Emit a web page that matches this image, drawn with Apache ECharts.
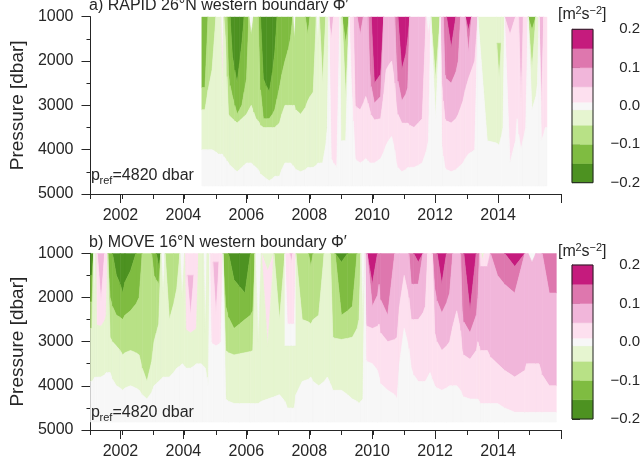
<!DOCTYPE html>
<html><head><meta charset="utf-8">
<script src="https://cdn.jsdelivr.net/npm/echarts@6/dist/echarts.min.js"></script>
<style>html,body{margin:0;padding:0;background:#fff}#c{width:644px;height:466px}</style>
</head><body><div id="c"></div>
<script>
// ---- contour levels (m^2 s^-2) and colours ----
const levels = [-0.2, -0.15, -0.1, -0.05, -0.01, 0.01, 0.05, 0.1, 0.15, 0.2];
const levelColors = ['#4d9221', '#7fbc41', '#b8e186', '#e6f5d0', '#f7f7f7', '#fde0ef', '#f1b6da', '#de77ae', '#c51b7d'];
const cbTicks = [-0.2, -0.1, 0, 0.1, 0.2];
const yearTicks = [2002, 2004, 2006, 2008, 2010, 2012, 2014, 2016];
const yearLabels = [2002, 2004, 2006, 2008, 2010, 2012, 2014];
const pressureTicks = [1000, 2000, 3000, 4000, 5000];
const pTop = 1000;
const pRef = 4820;

// Each column: [start time, value1, bottom pressure1, value2, bottom pressure2, ..., last value (to pRef)]
const rapidCols = [
  [2004.55, -0.125, 2600, -0.075, 3100, -0.03, 4000, 0],
  [2004.75, -0.075, 2200, -0.03, 4000, 0],
  [2005.0, -0.03, 4100, 0],
  [2005.15, 0, 2000, 0.03, 3000, -0.03, 4100, 0],
  [2005.25, -0.075, 1500, -0.03, 4200, 0],
  [2005.35, -0.125, 2300, -0.075, 3200, -0.03, 4300, 0],
  [2005.45, -0.175, 1900, -0.125, 2800, -0.075, 3300, -0.03, 4400, 0],
  [2005.6, -0.175, 2500, -0.125, 3200, -0.075, 3400, -0.03, 4500, 0],
  [2005.75, -0.175, 1600, -0.125, 3000, -0.075, 3300, -0.03, 4400, 0],
  [2005.9, -0.125, 2400, -0.075, 3200, -0.03, 4300, 0],
  [2006.05, 0, 1400, -0.075, 3000, -0.03, 4300, 0],
  [2006.2, -0.075, 3300, -0.03, 4400, 0],
  [2006.35, -0.125, 2000, -0.075, 3400, -0.03, 4500, 0],
  [2006.42, -0.175, 2400, -0.125, 3300, -0.075, 3500, -0.03, 4600, 0],
  [2006.6, -0.175, 2700, -0.125, 3300, -0.075, 3500, -0.03, 4700, 0],
  [2006.8, -0.175, 1800, -0.125, 3100, -0.075, 3500, -0.03, 4600, 0],
  [2006.95, -0.125, 2600, -0.075, 3400, -0.03, 4600, 0],
  [2007.1, -0.125, 2000, -0.075, 3000, -0.03, 4300, 0],
  [2007.3, -0.125, 1500, -0.075, 3000, -0.03, 4300, 0],
  [2007.45, 0, 1500, -0.075, 3000, -0.03, 4400, 0],
  [2007.55, -0.075, 3200, -0.03, 4500, 0],
  [2007.85, -0.125, 1400, -0.075, 2900, -0.03, 4400, 0],
  [2008.0, -0.075, 2700, -0.03, 4400, 0],
  [2008.2, 0, 1600, -0.03, 4300, 0],
  [2008.3, -0.075, 2500, -0.03, 4300, 0],
  [2008.5, -0.03, 3500, 0],
  [2008.6, 0.075, 1500, 0.03, 4200, 0],
  [2008.75, 0.03, 4400, 0],
  [2008.95, -0.03, 3800, 0],
  [2009.02, -0.125, 1600, -0.075, 2800, -0.03, 3800, 0],
  [2009.25, 0.03, 2500, 0],
  [2009.38, 0.075, 3000, 0.03, 4200, 0],
  [2009.5, 0.125, 1400, 0.075, 3100, 0.03, 4300, 0],
  [2009.7, 0.075, 2800, 0.03, 4200, 0],
  [2009.85, 0.125, 2200, 0.075, 3100, 0.03, 4300, 0],
  [2009.95, 0.175, 2500, 0.125, 2950, 0.075, 3330, 0.03, 4300, 0],
  [2010.15, 0.175, 2300, 0.125, 2800, 0.075, 3300, 0.03, 4200, 0],
  [2010.35, 0.075, 2200, 0.03, 3900, 0],
  [2010.5, 0.075, 2000, 0.03, 3700, 0],
  [2010.7, 0.125, 2000, 0.075, 3000, 0.03, 4300, 0],
  [2010.8, 0.175, 2200, 0.125, 2900, 0.075, 3400, 0.03, 4500, 0],
  [2011.05, 0.175, 1500, 0.125, 2600, 0.075, 3400, 0.03, 4400, 0],
  [2011.18, 0.075, 3500, 0.03, 4400, 0],
  [2011.45, 0.075, 3300, 0.03, 4300, 0],
  [2011.7, 0, 1400, 0.03, 3800, 0],
  [2011.85, -0.075, 2400, -0.03, 3300, 0],
  [2012.15, 0.075, 2500, 0.03, 3900, 0],
  [2012.25, 0.125, 2300, 0.075, 3300, 0.03, 4400, 0],
  [2012.35, 0.175, 1700, 0.125, 2500, 0.075, 3400, 0.03, 4500, 0],
  [2012.65, 0.125, 2000, 0.075, 3200, 0.03, 4400, 0],
  [2012.8, 0.075, 2900, 0.03, 4300, 0],
  [2012.95, 0.175, 1300, 0.125, 1800, 0.075, 2400, 0.03, 4100, 0],
  [2013.15, 0.075, 2000, 0.03, 4000, 0],
  [2013.35, -0.03, 3800, 0],
  [2013.95, -0.03, 1600, -0.075, 2400, -0.03, 3900, 0],
  [2014.1, -0.03, 3500, 0],
  [2014.2, 0.075, 1400, 0.03, 4300, 0],
  [2014.55, 0.03, 3300, 0],
  [2014.65, 0.075, 3000, 0.03, 4000, 0],
  [2014.8, 0.03, 3500, 0],
  [2014.95, -0.125, 1300, -0.075, 2200, -0.03, 3100, 0],
  [2015.2, -0.03, 2500, 0],
  [2015.3, 0.075, 3000, 0.03, 3800, 0],
  [2015.45, 0.03, 3500, 0]
];
const rapidEnd = 2015.55;

const moveCols = [
  [2001.0, -0.175, 1500, -0.125, 2100, -0.075, 2700, -0.03, 3900, 0],
  [2001.1, 0, 2300, -0.03, 3800, 0],
  [2001.17, 0.03, 2600, -0.03, 3800, 0],
  [2001.22, 0.075, 2100, 0.03, 2650, -0.03, 3800, 0],
  [2001.45, 0.03, 2400, -0.03, 3700, 0],
  [2001.55, -0.125, 2000, -0.075, 2900, -0.03, 3700, 0],
  [2001.7, -0.175, 1500, -0.125, 2400, -0.075, 3100, -0.03, 4000, 0],
  [2001.95, -0.175, 1900, -0.125, 2500, -0.075, 3300, -0.03, 4100, 0],
  [2002.1, -0.175, 1400, -0.125, 2300, -0.075, 3200, -0.03, 4000, 0],
  [2002.45, -0.125, 2000, -0.075, 3300, -0.03, 4100, 0],
  [2002.65, -0.075, 3900, -0.03, 4300, 0],
  [2002.95, -0.125, 1500, -0.075, 3000, -0.03, 4000, 0],
  [2003.1, -0.175, 1300, -0.125, 1700, -0.075, 2600, -0.03, 3900, 0],
  [2003.25, 0, 1900, -0.03, 3800, 0],
  [2003.38, -0.075, 2500, -0.03, 3800, 0],
  [2003.65, -0.075, 1800, -0.03, 3600, 0],
  [2003.85, 0, 2000, -0.03, 3500, 0],
  [2004.0, 0.03, 2700, -0.03, 3600, 0],
  [2004.08, 0.03, 1500, 0.075, 2400, 0.03, 2800, -0.03, 3600, 0],
  [2004.3, 0.03, 2700, -0.03, 3500, 0],
  [2004.45, -0.03, 3500, 0],
  [2004.6, 0, 2800, -0.03, 3600, 0],
  [2004.72, -0.03, 4000, 0],
  [2004.8, 0.03, 3000, 0],
  [2004.9, 0.03, 1200, 0.075, 2400, 0.03, 3100, 0],
  [2005.1, 0.03, 3000, 0],
  [2005.22, -0.125, 2200, -0.075, 3200, -0.03, 4300, 0],
  [2005.4, -0.175, 1600, -0.125, 2700, -0.075, 3300, -0.03, 4400, 0],
  [2005.75, -0.175, 1900, -0.125, 2500, -0.075, 3250, -0.03, 4400, 0],
  [2006.1, -0.125, 2300, -0.075, 3200, -0.03, 4400, 0],
  [2006.25, 0, 3000, -0.03, 4400, 0],
  [2006.45, -0.03, 1400, 0.03, 3100, -0.03, 4300, 0],
  [2006.85, -0.075, 2500, -0.03, 4200, 0],
  [2007.2, 0.03, 2600, 0, 3100, -0.03, 4500, 0],
  [2007.35, 0.075, 1200, 0.03, 2600, 0, 3100, -0.03, 4500, 0],
  [2007.45, 0.03, 2600, 0, 3100, -0.03, 4500, 0],
  [2007.55, -0.075, 2500, -0.03, 3900, 0],
  [2007.95, -0.125, 1300, -0.075, 2600, -0.03, 3800, 0],
  [2008.1, -0.075, 2400, -0.03, 4000, 0],
  [2008.45, -0.03, 3800, 0],
  [2008.65, -0.075, 2900, -0.03, 4100, 0],
  [2008.8, -0.175, 1200, -0.125, 2400, -0.075, 2950, -0.03, 4100, 0],
  [2009.2, -0.125, 2200, -0.075, 2900, -0.03, 4300, 0],
  [2009.5, -0.075, 2500, -0.03, 4400, 0],
  [2009.62, 0, 2600, -0.03, 4300, 0],
  [2009.75, 0.075, 2600, 0.03, 3400, 0],
  [2009.82, 0.175, 1700, 0.125, 2200, 0.075, 2700, 0.03, 3500, 0],
  [2010.15, 0.125, 1700, 0.075, 2600, 0.03, 3800, 0],
  [2010.25, 0.125, 2400, 0.075, 3000, 0.03, 4100, 0],
  [2010.7, 0.075, 2900, 0.03, 4300, 0],
  [2010.85, 0.075, 1500, 0.03, 2700, 0],
  [2011.15, 0.125, 1700, 0.075, 2500, 0.03, 3600, 0],
  [2011.3, 0.175, 1200, 0.125, 1700, 0.075, 2500, 0.03, 3900, 0],
  [2011.6, 0.075, 2200, 0.03, 3900, 0],
  [2011.75, 0.03, 3700, 0],
  [2011.9, 0.125, 1800, 0.075, 2800, 0.03, 4000, 0],
  [2012.05, 0.175, 1700, 0.125, 2350, 0.075, 3200, 0.03, 4100, 0],
  [2012.35, 0.125, 1900, 0.075, 3000, 0.03, 4000, 0],
  [2012.55, 0.075, 2300, 0.03, 4000, 0],
  [2012.8, 0.125, 2300, 0.075, 3200, 0.03, 4200, 0],
  [2012.9, 0.175, 2300, 0.125, 2800, 0.075, 3400, 0.03, 4300, 0],
  [2013.3, 0.125, 2000, 0.075, 3000, 0.03, 4300, 0],
  [2013.4, 0.03, 1300, 0.075, 3200, 0.03, 4400, 0],
  [2013.45, -0.03, 1150, 0.03, 1300, 0.075, 3200, 0.03, 4400, 0],
  [2013.55, 0.03, 1300, 0.075, 3200, 0.03, 4400, 0],
  [2013.75, 0.125, 1500, 0.075, 3500, 0.03, 4400, 0],
  [2014.2, 0.175, 1300, 0.125, 1900, 0.075, 3800, 0.03, 4600, 0],
  [2014.85, 0.075, 3500, 0.03, 4600, 0],
  [2014.95, 0, 1200, 0.075, 3500, 0.03, 4600, 0],
  [2015.2, 0.075, 3500, 0.03, 4600, 0],
  [2015.4, 0.125, 1900, 0.075, 4000, 0.03, 4600, 0]
];
const moveEnd = 2015.85;

// ---- turn the column profiles into band polygons (boundaries joined between column centres) ----
function parseCols(cols, tEnd) {
  return cols.map((c, i) => {
    const vals = [], bnds = [];
    for (let k = 1; k < c.length; k += 2) {
      vals.push(c[k]);
      if (k + 1 < c.length) bnds.push(c[k + 1]);
    }
    return { t0: c[0], t1: i + 1 < cols.length ? cols[i + 1][0] : tEnd, vals: vals, bnds: bnds };
  });
}
function edgeDepths(col, nb) {
  const e = [];
  for (let k = 0; k < col.bnds.length; k++) {
    const d = col.bnds[k];
    let val = d;
    if (nb) {
      let best = null;
      for (let m = 0; m < nb.bnds.length; m++) {
        if (nb.vals[m] === col.vals[k] && nb.vals[m + 1] === col.vals[k + 1]) {
          if (best === null || Math.abs(nb.bnds[m] - d) < Math.abs(best - d)) best = nb.bnds[m];
        }
      }
      if (best !== null) val = (d + best) / 2;
      else if (k === 0 && nb.vals[0] !== col.vals[0]) val = pTop;
      else if (k > 0 && nb.vals.indexOf(col.vals[k]) < 0) val = e[k - 1];
    }
    if (k > 0 && val < e[k - 1]) val = e[k - 1];
    e.push(val);
  }
  return e;
}
function bandItems(cols, tEnd) {
  const C = parseCols(cols, tEnd);
  const out = [];
  C.forEach((col, i) => {
    const eL = edgeDepths(col, C[i - 1] && Math.abs(C[i - 1].t1 - col.t0) < 1e-6 ? C[i - 1] : null);
    const eR = edgeDepths(col, C[i + 1] || null);
    const tc = (col.t0 + col.t1) / 2;
    const n = col.vals.length;
    for (let k = 0; k < n; k++) {
      const top = k === 0 ? [pTop, pTop, pTop] : [eL[k - 1], col.bnds[k - 1], eR[k - 1]];
      const bot = k === n - 1 ? [pRef, pRef, pRef] : [eL[k], col.bnds[k], eR[k]];
      out.push([col.t0, tc, col.t1, top[0], top[1], top[2], bot[0], bot[1], bot[2], col.vals[k]]);
    }
  });
  return out;
}
function colorOf(v) {
  for (let i = 0; i < levels.length - 1; i++) {
    if (v >= levels[i] && v < levels[i + 1]) return levelColors[i];
  }
  return v < levels[0] ? levelColors[0] : levelColors[levelColors.length - 1];
}
function fieldRender(params, api) {
  const t0 = api.value(0), tc = api.value(1), t1 = api.value(2);
  const pts = [
    api.coord([t0, api.value(3)]), api.coord([tc, api.value(4)]), api.coord([t1, api.value(5)]),
    api.coord([t1, api.value(8)]), api.coord([tc, api.value(7)]), api.coord([t0, api.value(6)])
  ];
  const col = colorOf(api.value(9));
  return {
    type: 'polygon',
    shape: { points: pts },
    style: { fill: col, stroke: col, lineWidth: 0.6, lineJoin: 'round' }
  };
}
const cbData = levelColors.map((c, i) => [levels[i], levels[i + 1], i]);
function cbRender(params, api) {
  const a = api.coord([0, api.value(1)]);
  const b = api.coord([1, api.value(0)]);
  const col = levelColors[api.value(2)];
  return {
    type: 'rect',
    shape: { x: a[0], y: a[1], width: b[0] - a[0], height: b[1] - a[1] },
    style: { fill: col, stroke: col, lineWidth: 0.5 }
  };
}
function cbBorder(params, api) {
  const a = api.coord([0, 0.2]);
  const b = api.coord([1, -0.2]);
  return {
    type: 'rect', z2: 10,
    shape: { x: a[0], y: a[1], width: b[0] - a[0], height: b[1] - a[1] },
    style: { fill: null, stroke: '#222', lineWidth: 1 }
  };
}

const FONT = 'Liberation Sans, Arial, Helvetica, sans-serif';
const AX = '#262626';
const panels = [
  { top: 16.7, height: 177.3 },
  { top: 253.3, height: 176.7 }
];
const cbs = [
  { top: 29.3, height: 153.4 },
  { top: 265, height: 154 }
];

const grid = [], xAxis = [], yAxis = [], series = [];
panels.forEach((p, i) => {
  grid.push({ left: 89, top: p.top, width: 472, height: p.height });
  grid.push({ left: 89, top: p.top, width: 472, height: p.height });
  grid.push({ left: 572, top: cbs[i].top, width: 21, height: cbs[i].height });
  const g = i * 3;
  xAxis.push({
    gridIndex: g, type: 'value', min: 2001, max: 2016, interval: 1,
    axisLine: { show: true, lineStyle: { color: AX, width: 1 } },
    axisTick: { show: true, length: 5, lineStyle: { color: AX } },
    axisLabel: { show: false }, splitLine: { show: false }
  });
  yAxis.push({
    gridIndex: g, type: 'value', inverse: true, min: 1000, max: 5000, interval: 1000,
    name: 'Pressure [dbar]', nameLocation: 'middle', nameGap: 63,
    nameTextStyle: { fontSize: 19, color: '#262626', fontFamily: FONT },
    axisLine: { show: true, lineStyle: { color: AX, width: 1 } },
    axisTick: { show: true, length: 9, lineStyle: { color: AX } },
    minorTick: { show: true, splitNumber: 2, length: 4, lineStyle: { color: AX } },
    axisLabel: { fontSize: 16, color: '#262626', margin: 17, fontFamily: FONT, formatter: v => String(v) },
    splitLine: { show: false }
  });
  xAxis.push({
    gridIndex: g + 1, type: 'value', min: 2001, max: 2016,
    axisLine: { show: false },
    axisTick: { show: true, length: 9, lineStyle: { color: AX }, customValues: yearTicks },
    axisLabel: { show: true, fontSize: 16, color: '#262626', margin: 14, fontFamily: FONT,
      customValues: yearLabels, formatter: v => String(v) },
    splitLine: { show: false }
  });
  yAxis.push({ gridIndex: g + 1, type: 'value', inverse: true, min: 1000, max: 5000, show: false });
  xAxis.push({ gridIndex: g + 2, type: 'value', min: 0, max: 1, show: false });
  yAxis.push({
    gridIndex: g + 2, type: 'value', min: -0.2, max: 0.2, interval: 0.1, position: 'right',
    axisLine: { show: true, lineStyle: { color: '#222', width: 1 } },
    axisTick: { show: true, length: 8, lineStyle: { color: '#222' } },
    axisLabel: {
      fontSize: 15, color: '#262626', margin: 47, align: 'right', fontFamily: FONT,
      customValues: cbTicks,
      formatter: v => (Math.abs(v) < 1e-9 ? '0.0' : (v < 0 ? '\u2212' : '') + Math.abs(v).toFixed(1))
    },
    splitLine: { show: false }
  });
  series.push({
    type: 'custom', xAxisIndex: g, yAxisIndex: g, clip: true, silent: true,
    renderItem: fieldRender,
    encode: { x: [0, 2], y: [3, 6] },
    data: i === 0 ? bandItems(rapidCols, rapidEnd) : bandItems(moveCols, moveEnd)
  });
  series.push({
    type: 'custom', xAxisIndex: g + 2, yAxisIndex: g + 2, silent: true,
    renderItem: cbRender, encode: { y: [0, 1] }, data: cbData
  });
  series.push({
    type: 'custom', xAxisIndex: g + 2, yAxisIndex: g + 2, silent: true, z: 5,
    renderItem: cbBorder, data: [[0]]
  });
});

function txt(x, y, text, size) {
  return {
    type: 'text', x: x, y: y, silent: true, z: 100,
    style: { text: text, fontSize: size, fontFamily: FONT, fill: '#262626', verticalAlign: 'middle', align: 'left' }
  };
}
const graphic = [];
const titles = ['a) RAPID 26\u00b0N western boundary \u03a6\u2032', 'b) MOVE 16\u00b0N western boundary \u03a6\u2032'];
const dy = [0, 236.6];
[0, 1].forEach(i => {
  const o = dy[i];
  graphic.push(txt(89, 6 + o, titles[i], 16));
  graphic.push(txt(91, 176 + o, 'p', 16));
  graphic.push(txt(99.5, 181 + o, 'ref', 11));
  graphic.push(txt(112.5, 176 + o, '=4820 dbar', 16));
  graphic.push(txt(558, 15 + o, '[m', 16));
  graphic.push(txt(575.5, 11 + o, '2', 11));
  graphic.push(txt(581.5, 15 + o, 's', 16));
  graphic.push(txt(589.5, 11 + o, '\u22122', 11));
  graphic.push(txt(602, 15 + o, ']', 16));
});

const chart = echarts.init(document.getElementById('c'), null, { renderer: 'canvas' });
chart.setOption({
  animation: false,
  backgroundColor: '#ffffff',
  textStyle: { fontFamily: FONT },
  grid: grid, xAxis: xAxis, yAxis: yAxis, series: series, graphic: graphic
});
</script>
</body></html>
